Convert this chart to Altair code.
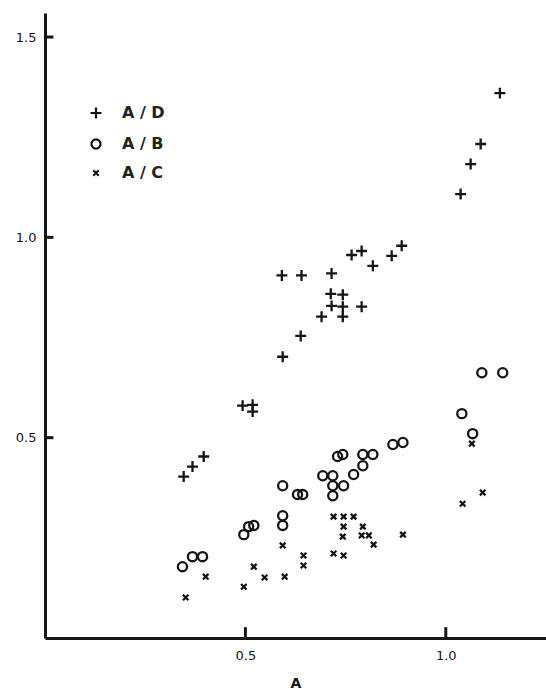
import altair as alt
import pandas as pd

# ---- data ----
series = ["A / D", "A / B", "A / C"]

ad_x = [0.346, 0.368, 0.396, 0.493, 0.518, 0.518, 0.593, 0.638, 0.690, 0.743,
        0.713, 0.743, 0.715, 0.743, 0.790, 0.591, 0.640, 0.715, 0.765, 0.790,
        0.818, 0.865, 0.890, 1.037, 1.062, 1.087, 1.135]
ad_y = [0.403, 0.428, 0.453, 0.580, 0.582, 0.565, 0.702, 0.754, 0.802, 0.802,
        0.859, 0.857, 0.829, 0.827, 0.827, 0.905, 0.905, 0.910, 0.956, 0.966,
        0.929, 0.954, 0.979, 1.108, 1.183, 1.233, 1.360]

ab_x = [0.343, 0.368, 0.393, 0.496, 0.508, 0.521, 0.593, 0.593, 0.593, 0.630,
        0.643, 0.693, 0.718, 0.718, 0.718, 0.745, 0.730, 0.743, 0.770, 0.793,
        0.818, 0.793, 0.868, 0.893, 1.040, 1.067, 1.090, 1.142]
ab_y = [0.178, 0.203, 0.203, 0.258, 0.278, 0.281, 0.380, 0.305, 0.281, 0.358,
        0.358, 0.405, 0.405, 0.380, 0.355, 0.380, 0.453, 0.458, 0.408, 0.458,
        0.458, 0.430, 0.483, 0.488, 0.560, 0.510, 0.662, 0.662]

ac_x = [0.351, 0.401, 0.496, 0.521, 0.548, 0.598, 0.593, 0.645, 0.645, 0.720,
        0.745, 0.770, 0.745, 0.743, 0.793, 0.790, 0.808, 0.820, 0.893, 0.720,
        0.745, 1.065, 1.092, 1.042]
ac_y = [0.101, 0.153, 0.128, 0.178, 0.151, 0.153, 0.231, 0.206, 0.181, 0.303,
        0.303, 0.303, 0.278, 0.253, 0.278, 0.256, 0.256, 0.233, 0.258, 0.211,
        0.206, 0.485, 0.363, 0.335]

x_ticks = [0.5, 1.0]
y_ticks = [0.5, 1.0, 1.5]

rows = []
for name, xs_, ys_ in [(series[0], ad_x, ad_y), (series[1], ab_x, ab_y), (series[2], ac_x, ac_y)]:
    for a, r in zip(xs_, ys_):
        rows.append({"a": a, "r": r, "series": name})
df = pd.DataFrame(rows)

PLUS = "M-1,0L1,0M0,-1L0,1"
CROSS = "M-0.8,-0.8L0.8,0.8M0.8,-0.8L-0.8,0.8"
INK = "#151515"

xscale = alt.Scale(domain=[0, 1.25], nice=False, zero=False)
yscale = alt.Scale(domain=[0, 1.56], nice=False, zero=False)

x_axis = alt.Axis(values=x_ticks, format=".1f", title="A", tickSize=0, grid=False,
                  labelPadding=11, titlePadding=14, domainWidth=3, domainColor=INK,
                  labelFontSize=13, titleFontSize=14, labelFlush=False)
y_axis = alt.Axis(values=y_ticks, format=".1f", title=None, tickSize=0, grid=False,
                  labelPadding=9, domainWidth=3, domainColor=INK, labelFontSize=13,
                  labelFlush=False)

legend = alt.Legend(title=None, orient="none", legendX=43, legendY=92,
                    labelFont="DejaVu Sans", labelFontSize=16,
                    labelFontWeight="bold", labelColor="#222",
                    symbolStrokeWidth=2.2, symbolStrokeColor=INK,
                    labelOffset=18, rowPadding=12, padding=0)

points = alt.Chart(df).mark_point(filled=False, color=INK, strokeWidth=2.3, opacity=1).encode(
    x=alt.X("a:Q", scale=xscale, axis=x_axis),
    y=alt.Y("r:Q", scale=yscale, axis=y_axis),
    shape=alt.Shape("series:N",
                    scale=alt.Scale(domain=series, range=[PLUS, "circle", CROSS]),
                    legend=legend),
    size=alt.Size("series:N", scale=alt.Scale(domain=series, range=[120, 48, 85]),
                  legend=legend),
)

xt = pd.DataFrame({"tx": x_ticks, "ty0": [0.0] * len(x_ticks), "ty1": [0.027] * len(x_ticks)})
xtick_rules = alt.Chart(xt).mark_rule(color=INK, strokeWidth=3).encode(
    x=alt.X("tx:Q", scale=xscale, axis=x_axis),
    y=alt.Y("ty0:Q", scale=yscale, axis=y_axis),
    y2=alt.Y2("ty1:Q"),
)

yt = pd.DataFrame({"ty": y_ticks, "tx0": [0.0] * len(y_ticks), "tx1": [0.021] * len(y_ticks)})
ytick_rules = alt.Chart(yt).mark_rule(color=INK, strokeWidth=3).encode(
    y=alt.Y("ty:Q", scale=yscale, axis=y_axis),
    x=alt.X("tx0:Q", scale=xscale, axis=x_axis),
    x2=alt.X2("tx1:Q"),
)

chart = alt.layer(points, xtick_rules, ytick_rules).properties(
    width=501, height=625,
    padding={"left": 45, "top": 13, "right": 0, "bottom": 52},
    autosize=alt.AutoSizeParams(type="none"),
    background="white",
).configure_view(stroke=None).configure_axis(
    labelFont="DejaVu Sans", titleFont="DejaVu Sans", labelColor="#151515",
    titleColor="#151515", titleFontWeight="bold",
)

chart.save("out.html", embed_options={"renderer": "svg", "actions": False})
